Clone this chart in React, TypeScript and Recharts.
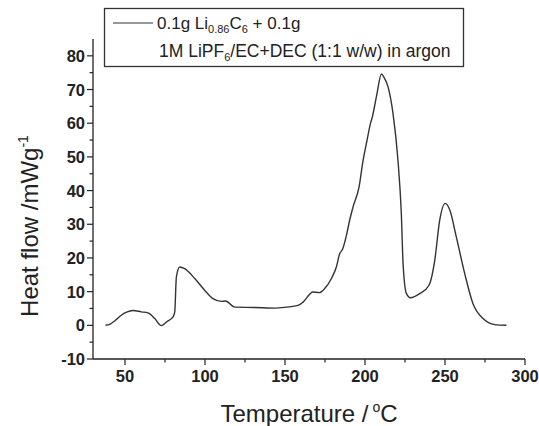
import { LineChart, Line, XAxis, YAxis, Customized } from "recharts"

// DSC trace (temperature in °C, heat flow in mW/g)
const temperature = [
  37.8, 40.4, 44, 47.7, 51, 55, 60.2, 64.4, 68.6, 72.7, 75.9, 80, 81.1, 82.1, 84.2, 87.3, 93.6, 99.8, 105, 110.2,
  112.8, 118.6, 131, 143.6, 150.9, 158.1, 161.3, 167.5, 171.3, 174.8, 179, 182.1, 184.2, 185.9, 188.4, 190.4, 192.5,
  196.3, 198.8, 200.9, 203.4, 204.6, 207.1, 210.3, 212, 214.4, 217.5, 220.6, 222.7, 223.8, 225.9, 228.4, 234.2, 240,
  243.6, 246.7, 250.2, 253, 257.1, 262.3, 267.5, 273.8, 281.1, 288.4,
]
const heatFlow = [
  0, 0.3, 1.5, 3.0, 3.9, 4.4, 4.0, 3.7, 2.0, -0.1, 1.0, 2.5, 4, 14.3, 17.3, 16.8, 13.9, 10.4, 7.9, 7.1, 7.2, 5.4,
  5.3, 5.1, 5.4, 5.9, 6.9, 9.9, 9.7, 10.9, 13.9, 17.3, 21.3, 22.5, 26.7, 31.2, 35.1, 41.1, 49, 54, 59.9, 61.9, 67.8,
  74.6, 73.5, 70.8, 62.9, 49, 33.2, 18.3, 9.4, 8.2, 9.4, 11.9, 19.3, 31.2, 36.2, 34.2, 26.2, 15.4, 6.4, 2.0, 0.2, 0,
]

const xMajor = [50, 100, 150, 200, 250, 300]
const xTicks = [50, 75, 100, 125, 150, 175, 200, 225, 250, 275, 300]
const yMajor = [-10, 0, 10, 20, 30, 40, 50, 60, 70, 80]
const yTicks = [-10, -5, 0, 5, 10, 15, 20, 25, 30, 35, 40, 45, 50, 55, 60, 65, 70, 75, 80]

const data = temperature.map((t, i) => ({ t, q: heatFlow[i] }))

const FONT = "Arial, 'Liberation Sans', sans-serif"
const INK = "#222"

function XTick({ x, y, payload }: any) {
  const major = xMajor.includes(payload.value)
  return (
    <g>
      <line x1={x} x2={x} y1={y} y2={y + (major ? 6 : 3.5)} stroke={INK} strokeWidth={1.2} />
      {major && (
        <text x={x} y={y + 23} textAnchor="middle" fontFamily={FONT} fontWeight="bold" fontSize={16.5} fill={INK}>
          {payload.value}
        </text>
      )}
    </g>
  )
}

function YTick({ x, y, payload }: any) {
  const major = yMajor.includes(payload.value)
  return (
    <g>
      <line x1={x - (major ? 6 : 3.5)} x2={x} y1={y} y2={y} stroke={INK} strokeWidth={1.2} />
      {major && (
        <text x={x - 8} y={y + 6} textAnchor="end" fontFamily={FONT} fontWeight="bold" fontSize={16.5} fill={INK}>
          {payload.value}
        </text>
      )}
    </g>
  )
}

function Decorations() {
  return (
    <g fontFamily={FONT} fill={INK}>
      <rect x={104.5} y={8.5} width={359} height={58} fill="#fff" stroke="#333" strokeWidth={1.3} />
      <line x1={113} x2={153} y1={23} y2={23} stroke="#333" strokeWidth={1.2} />
      <text x={157} y={29} fontSize={17}>
        0.1g Li
        <tspan fontSize={11} dy={4}>0.86</tspan>
        <tspan dy={-4}>C</tspan>
        <tspan fontSize={11} dy={4}>6</tspan>
        <tspan dy={-4}> + 0.1g</tspan>
      </text>
      <text x={159} y={57} fontSize={17.5}>
        1M LiPF
        <tspan fontSize={11} dy={4}>6</tspan>
        <tspan dy={-4}>/EC+DEC (1:1 w/w) in argon</tspan>
      </text>
      <text x={309} y={422} fontSize={24} textAnchor="middle">
        Temperature /
        <tspan fontSize={14} dy={-10}> o</tspan>
        <tspan dy={10}>C</tspan>
      </text>
      <text x={38} y={226} fontSize={24} textAnchor="middle" transform="rotate(-90, 38, 226)">
        Heat flow /mWg
        <tspan fontSize={14} dy={-10}>-1</tspan>
      </text>
    </g>
  )
}

export default function App() {
  return (
    <div style={{ position: "absolute", left: 0, top: 0, background: "#fff" }}>
      <LineChart width={539} height={426} data={data} margin={{ top: 39, right: 14, bottom: 27, left: 33 }}>
        <XAxis
          dataKey="t"
          type="number"
          domain={[30, 300]}
          ticks={xTicks}
          interval={0}
          tickSize={0}
          tickMargin={0}
          tickLine={false}
          tick={<XTick />}
          axisLine={{ stroke: INK, strokeWidth: 1.3 }}
          height={40}
          allowDataOverflow
        />
        <YAxis
          type="number"
          domain={[-10, 85]}
          ticks={yTicks}
          interval={0}
          tickSize={0}
          tickMargin={0}
          tickLine={false}
          tick={<YTick />}
          axisLine={{ stroke: INK, strokeWidth: 1.3 }}
          width={60}
          allowDataOverflow
        />
        <Line
          type="monotone"
          dataKey="q"
          stroke="#333"
          strokeWidth={1.4}
          dot={false}
          isAnimationActive={false}
        />
        <Customized component={<Decorations />} />
      </LineChart>
    </div>
  )
}
